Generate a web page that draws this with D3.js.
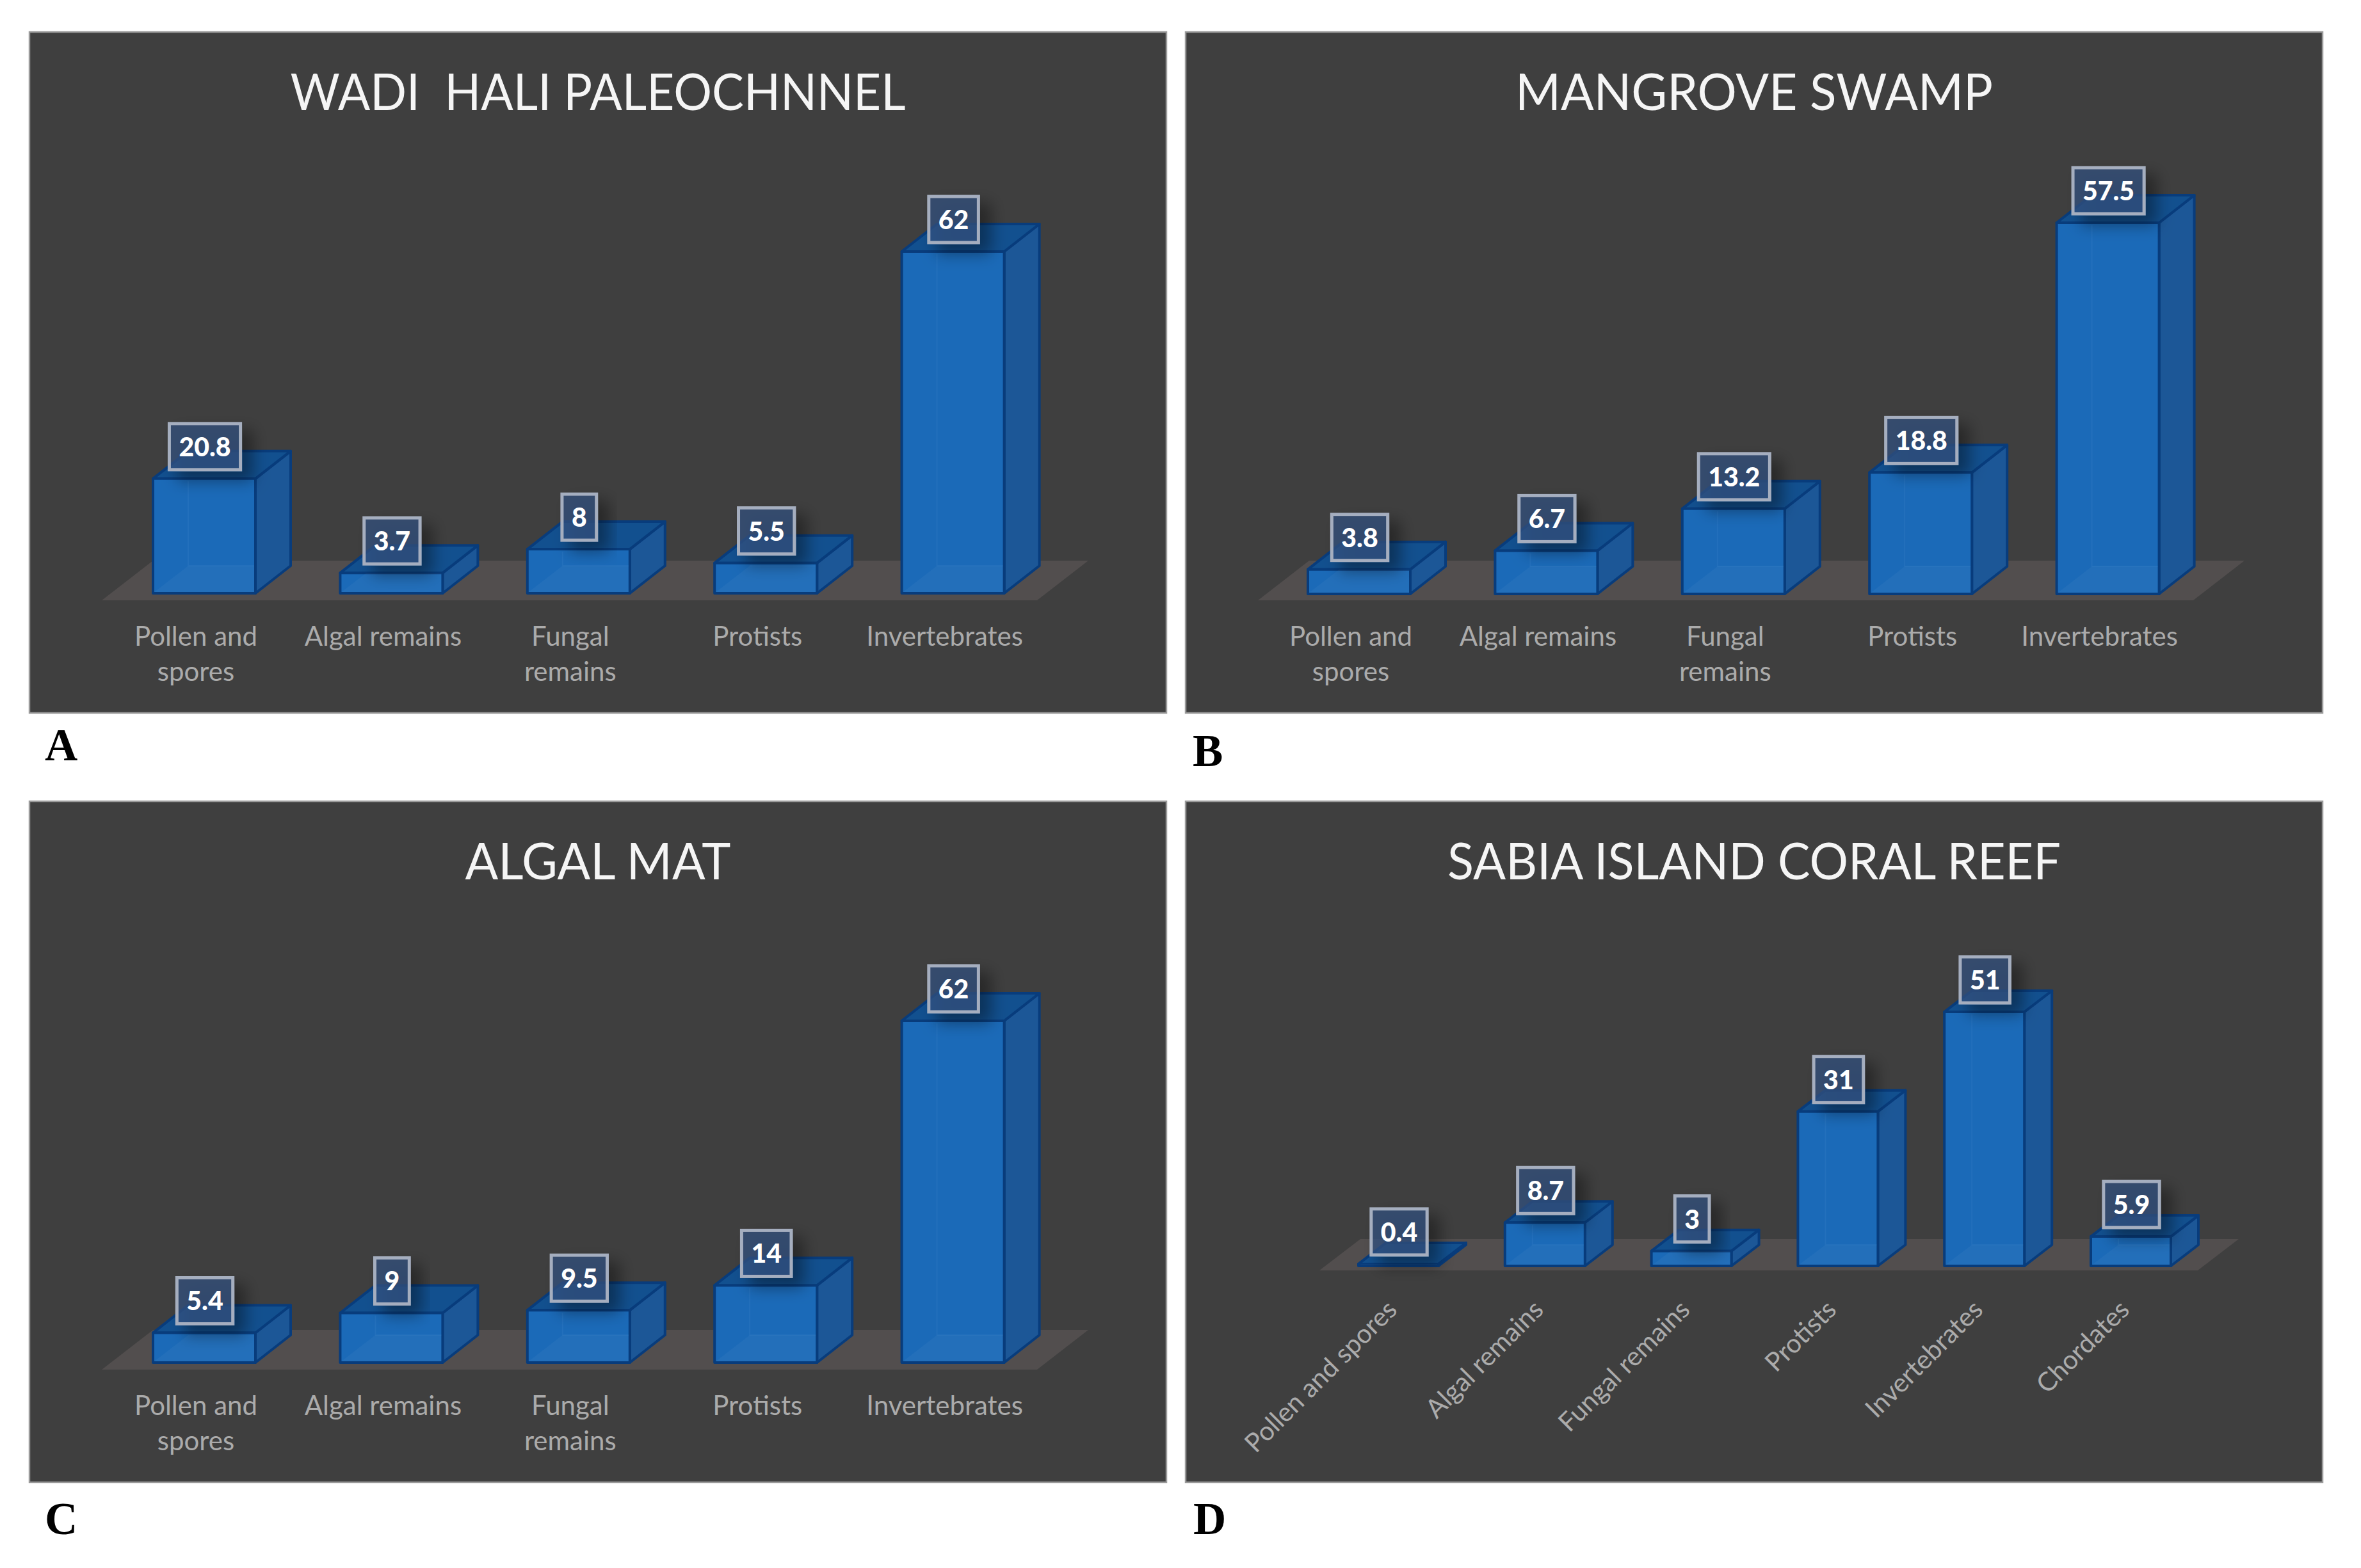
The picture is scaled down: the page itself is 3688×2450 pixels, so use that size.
<!DOCTYPE html>
<html>
<head>
<meta charset="utf-8">
<script src="https://cdn.jsdelivr.net/npm/d3@7"></script>
<style>
  html, body { margin: 0; background: #fff; }
  svg { display: block; }
  text { font-family: Lato, "Open Sans", sans-serif; }
</style>
</head>
<body>
<svg id="chart"></svg>
<script>
const width = 3688;
const height = 2450;

// data
const tickLabels = ["Pollen and\nspores", "Algal remains", "Fungal\nremains", "Protists", "Invertebrates"];
const tickLabelsD = ["Pollen and spores", "Algal remains", "Fungal remains", "Protists", "Invertebrates", "Chordates"];
const valuesA = [20.8, 3.7, 8, 5.5, 62];
const valuesB = [3.8, 6.7, 13.2, 18.8, 57.5];
const valuesC = [5.4, 9, 9.5, 14, 62];
const valuesD = [0.4, 8.7, 3, 31, 51, 5.9];
const titles = ["WADI  HALI PALEOCHNNEL", "MANGROVE SWAMP", "ALGAL MAT", "SABIA ISLAND CORAL REEF"];
const letters = ["A", "B", "C", "D"];

const panelW = 1776;
const panelH = 1064;

const wideBars = { first: 193, step: 292.4, barW: 160, dx: 55, dy: 43, floorFront: 888, floorBack: 826, floorLeft: 113, floorRight: 1574, floorDx: 80 };
const narrowBars = { first: 270, step: 228.8, barW: 125, dx: 43, dy: 33, floorFront: 733, floorBack: 684, floorLeft: 209, floorRight: 1581, floorDx: 64 };

const panels = [
  { x: 46, y: 50, cats: tickLabels, values: valuesA, title: titles[0], titleW: 961, base: 877, top: 343, g: wideBars, letter: letters[0], lx: 70, ly: 1188 },
  { x: 1852, y: 50, cats: tickLabels, values: valuesB, title: titles[1], titleW: 746, base: 878, top: 298, g: { ...wideBars, first: 191 }, letter: letters[1], lx: 1863, ly: 1197 },
  { x: 46, y: 1252, cats: tickLabels, values: valuesC, title: titles[2], titleW: 415, base: 877, top: 343, g: wideBars, letter: letters[2], lx: 70, ly: 2397 },
  { x: 1852, y: 1252, cats: tickLabelsD, values: valuesD, title: titles[3], titleW: 958, base: 726, top: 329, g: narrowBars, letter: letters[3], lx: 1864, ly: 2397, rotated: true }
];

const svg = d3.select("#chart").attr("width", width).attr("height", height);

const defs = svg.append("defs");
const shadow = defs.append("filter").attr("id", "boxShadow")
  .attr("x", "-40%").attr("y", "-40%").attr("width", "200%").attr("height", "200%");
shadow.append("feDropShadow").attr("dx", 16).attr("dy", 14).attr("stdDeviation", 12)
  .attr("flood-color", "#000").attr("flood-opacity", 0.5);

const poly = d3.line();
const edge = "#083c7c";

panels.forEach((p) => {
  const g = svg.append("g").attr("transform", `translate(${p.x},${p.y})`);
  const geo = p.g;

  g.append("rect")
    .attr("width", panelW).attr("height", panelH)
    .attr("fill", "#3f3f3f").attr("stroke", "#9a9a9a").attr("stroke-width", 2.5);

  g.append("text")
    .attr("x", panelW / 2).attr("y", 122)
    .attr("text-anchor", "middle")
    .attr("fill", "#f5f5f5").attr("font-size", 80)
    .attr("textLength", p.titleW).attr("lengthAdjust", "spacingAndGlyphs")
    .style("white-space", "pre")
    .text(p.title);

  // floor of the 3D plot
  g.append("path")
    .attr("d", poly([
      [geo.floorLeft, geo.floorFront],
      [geo.floorLeft + geo.floorDx, geo.floorBack],
      [geo.floorRight + geo.floorDx, geo.floorBack],
      [geo.floorRight, geo.floorFront]
    ]) + "Z")
    .attr("fill", "#524e4e");

  const n = p.cats.length;
  const r0 = geo.first - (geo.step - geo.barW) / 2;
  const x = d3.scaleBand()
    .domain(p.cats)
    .range([r0, r0 + n * geo.step])
    .paddingInner(1 - geo.barW / geo.step)
    .paddingOuter((1 - geo.barW / geo.step) / 2);
  const y = d3.scaleLinear()
    .domain([0, d3.max(p.values)])
    .range([p.base, p.top]);

  const bars = g.selectAll(".bar")
    .data(p.values.map((v, i) => ({ cat: p.cats[i], value: v })))
    .enter().append("g").attr("class", "bar");

  const w = x.bandwidth();
  const { dx, dy } = geo;

  // side face
  bars.append("path")
    .attr("d", (d) => {
      const l = x(d.cat) + w, t = y(d.value);
      return poly([[l, t], [l + dx, t - dy], [l + dx, p.base - dy], [l, p.base]]) + "Z";
    })
    .attr("fill", "#1c5797").attr("stroke", edge).attr("stroke-width", 4).attr("stroke-linejoin", "round");
  // lower part of the side face is a bit brighter (floor seen through it)
  bars.append("path")
    .attr("d", (d) => {
      const l = x(d.cat) + w, b = p.base;
      const t = Math.max(y(d.value), b - dy);
      return poly([[l, b], [l + dx, b - dy], [l + dx * (b - t) / dy, t]]) + "Z";
    })
    .attr("fill", "#1a63ad").attr("opacity", 0.55);

  // top face
  bars.append("path")
    .attr("d", (d) => {
      const l = x(d.cat), t = y(d.value);
      return poly([[l, t], [l + dx, t - dy], [l + w + dx, t - dy], [l + w, t]]) + "Z";
    })
    .attr("fill", "#12508f").attr("stroke", edge).attr("stroke-width", 4).attr("stroke-linejoin", "round");

  // front face
  bars.append("rect")
    .attr("x", (d) => x(d.cat))
    .attr("y", (d) => y(d.value))
    .attr("width", w)
    .attr("height", (d) => p.base - y(d.value))
    .attr("fill", "#1b6ab8").attr("stroke", edge).attr("stroke-width", 4).attr("stroke-linejoin", "round");

  // inside of the box, seen through the front face
  bars.append("path")
    .attr("d", (d) => {
      const l = x(d.cat), t = y(d.value);
      const h = Math.min(dy, p.base - t);
      const k = h / dy;
      return poly([[l + 2, p.base - 2], [l + dx * k, p.base - h], [l + w - 2, p.base - h], [l + w - 2, p.base - 2]]) + "Z";
    })
    .attr("fill", "#fff").attr("opacity", 0.035);
  bars.filter((d) => p.base - y(d.value) > dy + 4).append("path")
    .attr("d", (d) => {
      const l = x(d.cat), t = y(d.value);
      return poly([[l + dx, t + 4], [l + dx, p.base - dy], [l + w - 2, p.base - dy]]);
    })
    .attr("fill", "none").attr("stroke", "#3b82c8").attr("stroke-width", 2).attr("opacity", 0.25);

  // category axis
  const axis = g.append("g")
    .attr("transform", `translate(${p.rotated ? 0 : -13},${p.rotated ? 797 : 959})`)
    .call(d3.axisBottom(x).tickSize(0));
  axis.select(".domain").remove();
  const tickText = axis.selectAll("text")
    .attr("fill", "#ababab").attr("font-size", p.rotated ? 41 : 42)
    .attr("font-family", "Lato, 'Open Sans', sans-serif");
  if (p.rotated) {
    tickText.attr("y", 0).attr("dy", 0)
      .attr("text-anchor", "end")
      .attr("transform", "rotate(-45)");
  } else {
    tickText.attr("y", 0).attr("dy", 0).each(function (d) {
      const el = d3.select(this).text(null);
      d.split("\n").forEach((line, i) => {
        el.append("tspan").attr("x", 0).attr("y", i * 55).text(line);
      });
    });
  }

  // value labels
  const labels = bars.append("g")
    .attr("transform", (d) => `translate(${x(d.cat) + w / 2 + 1},${y(d.value) - 14})`);
  const labelRect = labels.append("rect");
  const labelText = labels.append("text")
    .attr("text-anchor", "middle")
    .attr("y", -21)
    .attr("fill", "#fff").attr("font-size", 41).attr("font-weight", 900)
    .text((d) => String(d.value));
  labelRect.each(function (d, i) {
    const tw = labelText.nodes()[i].getComputedTextLength();
    d3.select(this)
      .attr("x", -tw / 2 - 15).attr("width", tw + 30)
      .attr("y", -72).attr("height", 72);
  })
    .attr("fill", "#33507f").attr("fill-opacity", 0.72)
    .attr("stroke", "#a5aebf").attr("stroke-width", 5)
    .attr("filter", "url(#boxShadow)");

  // panel letter
  svg.append("text")
    .attr("x", p.lx).attr("y", p.ly)
    .attr("fill", "#000").attr("font-size", 71).attr("font-weight", 700)
    .style("font-family", "'Liberation Serif', serif")
    .text(p.letter);
});
</script>
</body>
</html>
